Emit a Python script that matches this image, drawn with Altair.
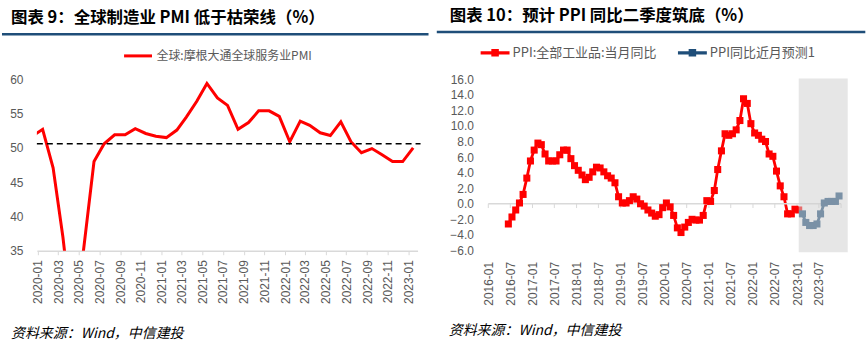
import altair as alt
import pandas as pd

FONT_CJK = "Noto Sans CJK SC"
FONT_NUM = "Liberation Sans"
GRAY = "#595959"
AXIS_GRAY = "#d9d9d9"
TITLE_BLUE = "#1f4e79"
RED = "#ff0000"
BLUE = "#1f4e79"
MONTH_LABEL = "utcFormat(datum.value, '%Y-%m')"


def month_seq(start_year, start_month, n):
    out = []
    y, m = start_year, start_month
    for _ in range(n):
        out.append(f"{y:04d}-{m:02d}")
        m += 1
        if m > 12:
            m = 1
            y += 1
    return out


def dt(label, day=1):
    y, m = label.split("-")
    return alt.DateTime(year=int(y), month=int(m), date=day, utc=True)


# ---------------- Figure 9 data ----------------
title9 = "图表 9：全球制造业 PMI 低于枯荣线（%）"
pmi_name = "全球:摩根大通全球服务业PMI"
pmi_months = month_seq(2019, 12, 38)
pmi_values = [51.7, 52.7, 47.1, 37.0, 23.7, 35.1, 48.0, 50.6,
              51.9, 51.9, 52.8, 52.1, 51.7,
              51.5, 52.6, 54.5, 56.8, 59.4, 57.3, 56.2, 52.7, 53.7, 55.4, 55.4, 54.6,
              50.9, 53.9, 53.3, 52.2, 51.8, 53.8, 50.9, 49.3, 49.9, 49.0, 48.0, 48.0,
              50.0]
pmi_ref_line = 50.6
pmi_tick_labels = ["2020-01", "2020-03", "2020-05", "2020-07", "2020-09", "2020-11",
                   "2021-01", "2021-03", "2021-05", "2021-07", "2021-09", "2021-11",
                   "2022-01", "2022-03", "2022-05", "2022-07", "2022-09", "2022-11",
                   "2023-01"]
pmi_y_ticks = [35, 40, 45, 50, 55, 60]

# ---------------- Figure 10 data ----------------
title10 = "图表 10：预计 PPI 同比二季度筑底（%）"
ppi_name = "PPI:全部工业品:当月同比"
fc_name = "PPI同比近月预测1"
ppi_months = month_seq(2016, 6, 80)
ppi_values = [-2.6, -1.7, -0.8, 0.1, 1.2, 3.3, 5.5,
              6.9, 7.8, 7.6, 6.4, 5.5, 5.5, 5.5, 6.3, 6.9, 6.9, 5.8, 4.9,
              4.3, 3.7, 3.1, 3.4, 4.1, 4.7, 4.6, 4.1, 3.6, 3.3, 2.7, 0.9,
              0.1, 0.1, 0.4, 0.9, 0.6, 0.0, -0.3, -0.8, -1.2, -1.6, -1.4, -0.5,
              0.1, -0.4, -1.5, -3.1, -3.7, -3.0, -2.4, -2.0, -2.1, -2.1, -1.5, 0.4,
              0.3, 1.7, 4.4, 6.8, 9.0, 8.8, 9.0, 9.5, 10.7, 13.5, 12.9, 10.3,
              9.1, 8.8, 8.3, 8.0, 6.4, 6.1, 4.2, 2.3, 0.9, -1.3, -1.3, -0.7,
              -0.8]
fc_months = month_seq(2023, 2, 11)
fc_values = [-1.3, -2.4, -2.8, -2.8, -2.6, -1.3, 0.1, 0.3, 0.3, 0.3, 1.0]
ppi_tick_labels = ["2016-01", "2016-07", "2017-01", "2017-07", "2018-01", "2018-07",
                   "2019-01", "2019-07", "2020-01", "2020-07", "2021-01", "2021-07",
                   "2022-01", "2022-07", "2023-01", "2023-07"]
ppi_tick_marks = ppi_tick_labels + ["2024-01"]
ppi_y_ticks = [-6, -4, -2, 0, 2, 4, 6, 8, 10, 12, 14, 16]
band_start, band_end = "2023-01-15", "2024-02-25"
band_top, band_bottom = 16.1, -6.25

source_text = "资料来源：Wind，中信建投"


def text_layer(txt, x, y, size, weight="normal", style="normal"):
    return alt.Chart(pd.DataFrame({"t": [txt]})).mark_text(
        align="left", baseline="middle", font=FONT_CJK, fontSize=size,
        fontWeight=weight, fontStyle=style, color="#000000"
    ).encode(text="t:N", x=alt.value(x), y=alt.value(y))


def blue_rule(x1, x2, y):
    return alt.Chart(pd.DataFrame({"a": [0]})).mark_rule(
        color=TITLE_BLUE, strokeWidth=2.5
    ).encode(x=alt.value(x1), x2=alt.value(x2), y=alt.value(y))


# ---------------- Left panel ----------------
L_W, L_H = 382, 172
left_df = pd.DataFrame({
    "date": [m + "-15" for m in pmi_months],
    "value": pmi_values,
    "series": pmi_name,
})

x_left = alt.X(
    "date:T",
    scale=alt.Scale(type="utc", domain=[alt.DateTime(year=2019, month=12, date=29, utc=True),
                                        alt.DateTime(year=2023, month=1, date=28, utc=True)]),
    axis=alt.Axis(values=[dt(l) for l in pmi_tick_labels], labelExpr=MONTH_LABEL,
                  labelAngle=-90, tickSize=4, labelPadding=5, title=None,
                  domainColor=AXIS_GRAY, tickColor=AXIS_GRAY, domainWidth=1.5),
)
y_left = alt.Y(
    "value:Q",
    scale=alt.Scale(domain=[35, 60]),
    axis=alt.Axis(values=pmi_y_ticks, domain=False, ticks=False, labelPadding=14, title=None),
)

left_line = alt.Chart(left_df).mark_line(strokeWidth=3, clip=True).encode(
    x=x_left, y=y_left,
    color=alt.Color("series:N", scale=alt.Scale(domain=[pmi_name], range=[RED]),
                    legend=alt.Legend(orient="none", legendX=86, legendY=-39, title=None,
                                      symbolType="stroke", symbolSize=784, symbolStrokeWidth=3,
                                      labelFont=FONT_CJK, labelFontSize=12, labelColor=GRAY,
                                      labelOffset=3, padding=0, labelLimit=0)),
)
left_ref = alt.Chart(pd.DataFrame({"value": [pmi_ref_line]})).mark_rule(
    color="#000000", strokeDash=[6, 4], strokeWidth=1.5
).encode(y=y_left, x=alt.value(0), x2=alt.value(385))

left = alt.layer(
    left_line,
    left_ref,
    text_layer(title9, -26, -61.7, 16.5, weight="bold"),
    blue_rule(-35, 393, -45.2),
    text_layer(source_text, -26, 255.3, 14, style="italic"),
).properties(width=L_W, height=L_H)

# ---------------- Right panel ----------------
R_W, R_H = 354, 171.7
ppi_df = pd.DataFrame({"date": [m + "-15" for m in ppi_months], "value": ppi_values, "series": ppi_name})
fc_line_df = pd.DataFrame({
    "date": [ppi_months[-1] + "-15"] + [m + "-15" for m in fc_months],
    "value": [ppi_values[-1]] + fc_values,
})
fc_df = pd.DataFrame({"date": [m + "-15" for m in fc_months], "value": fc_values, "series": fc_name})
pts_df = pd.concat([ppi_df, fc_df], ignore_index=True)

r_scale = alt.Scale(type="utc", domain=[alt.DateTime(year=2016, month=1, date=1, utc=True),
                                        alt.DateTime(year=2024, month=1, date=1, utc=True)])
x_right = alt.X(
    "date:T", scale=r_scale,
    axis=alt.Axis(values=[dt(l) for l in ppi_tick_labels], labelExpr=MONTH_LABEL,
                  labelAngle=-90, domain=False, ticks=False, labelPadding=11, title=None),
)
y_right = alt.Y(
    "value:Q", scale=alt.Scale(domain=[-6, 16]),
    axis=alt.Axis(values=ppi_y_ticks, format=".1f", domain=False, ticks=False,
                  labelPadding=15, title=None),
)

zero_line = alt.Chart(pd.DataFrame({"value": [0.0]})).mark_rule(
    color=AXIS_GRAY, strokeWidth=1.5
).encode(y=y_right)
zero_ticks = alt.Chart(pd.DataFrame({
    "date": [l + "-01" for l in ppi_tick_marks],
    "value": [0.0] * len(ppi_tick_marks),
    "value2": [-0.55] * len(ppi_tick_marks),
})).mark_rule(color=AXIS_GRAY, strokeWidth=1).encode(x=x_right, y=y_right, y2="value2:Q")

red_line = alt.Chart(ppi_df).mark_line(color=RED, strokeWidth=2.8).encode(x=x_right, y=y_right)
blue_line = alt.Chart(fc_line_df).mark_line(color=BLUE, strokeWidth=2.8).encode(x=x_right, y=y_right)
points = alt.Chart(pts_df).mark_point(shape="square", filled=True, size=50, opacity=1).encode(
    x=x_right, y=y_right,
    color=alt.Color("series:N", scale=alt.Scale(domain=[ppi_name, fc_name], range=[RED, BLUE]),
                    legend=alt.Legend(orient="none", legendX=-7.7, legendY=-41.3, title=None,
                                      direction="horizontal", columns=2,
                                      symbolType="M-1,-0.11L1,-0.11L1,0.11L-1,0.11Z M-0.26,-0.26L0.26,-0.26L0.26,0.26L-0.26,0.26Z",
                                      symbolSize=841, symbolStrokeWidth=0,
                                      labelFont=FONT_CJK, labelFontSize=13, labelColor=GRAY,
                                      labelOffset=3, columnPadding=21, padding=0, labelLimit=0)),
)
band = alt.Chart(pd.DataFrame({
    "date": [band_start], "date2": [band_end],
    "value": [band_top], "value2": [band_bottom],
})).mark_rect(color="#cfcfcf", opacity=0.52, clip=False).encode(
    x=x_right, x2="date2:T", y=y_right, y2="value2:Q",
)

right = alt.layer(
    red_line,
    zero_line,
    zero_ticks,
    blue_line,
    points,
    band,
    text_layer(title10, -38.7, -64, 16.5, weight="bold"),
    blue_rule(-51.7, 378.3, -47.5),
    text_layer(source_text, -39.7, 253, 14, style="italic"),
).properties(width=R_W, height=R_H)

chart = alt.hconcat(left, right, spacing=5).properties(
    padding={"left": 0, "top": 7, "right": 0, "bottom": 0}
).configure_view(stroke=None).configure_axis(
    labelFont=FONT_NUM, labelFontSize=12, labelColor=GRAY, grid=False
).resolve_scale(color="independent")

chart.save("out.html", embed_options={"renderer": "svg", "actions": False})
